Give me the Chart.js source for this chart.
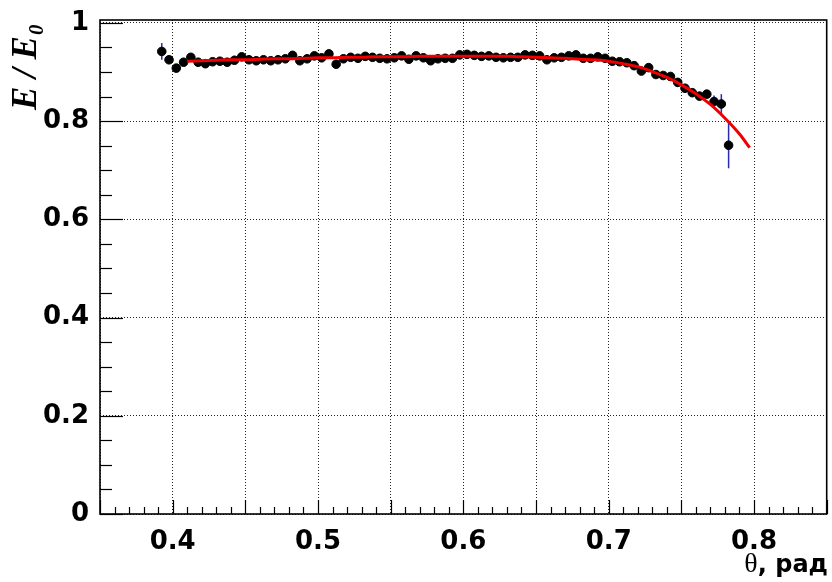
<!DOCTYPE html>
<html>
<head>
<meta charset="utf-8">
<script src="https://cdn.jsdelivr.net/npm/chart.js@4/dist/chart.umd.min.js"></script>
<style>
  html, body { margin: 0; padding: 0; background: #fff; }
  #wrap { width: 832px; height: 582px; }
</style>
</head>
<body>
<div id="wrap"><canvas id="c" width="832" height="582"></canvas></div>
<script>
// Polar angle bins (rad)
const angles = [
  0.3925,0.3975,0.4025,0.4075,0.4125,0.4175,0.4225,0.4275,0.4325,0.4375,
  0.4425,0.4475,0.4525,0.4575,0.4625,0.4675,0.4725,0.4775,0.4825,0.4875,
  0.4925,0.4975,0.5025,0.5075,0.5125,0.5175,0.5225,0.5275,0.5325,0.5375,
  0.5425,0.5475,0.5525,0.5575,0.5625,0.5675,0.5725,0.5775,0.5825,0.5875,
  0.5925,0.5975,0.6025,0.6075,0.6125,0.6175,0.6225,0.6275,0.6325,0.6375,
  0.6425,0.6475,0.6525,0.6575,0.6625,0.6675,0.6725,0.6775,0.6825,0.6875,
  0.6925,0.6975,0.7025,0.7075,0.7125,0.7175,0.7225,0.7275,0.7325,0.7375,
  0.7425,0.7475,0.7525,0.7575,0.7625,0.7675,0.7725,0.7775,0.7825
];
// Measured energy ratio E/E0 per bin
const ratio = [
  0.942,0.925,0.908,0.920,0.930,0.920,0.917,0.921,0.922,0.920,
  0.924,0.931,0.925,0.923,0.925,0.923,0.925,0.927,0.934,0.923,
  0.927,0.933,0.929,0.937,0.916,0.927,0.930,0.928,0.932,0.930,
  0.928,0.927,0.929,0.933,0.926,0.933,0.929,0.923,0.927,0.928,
  0.928,0.935,0.936,0.934,0.932,0.933,0.930,0.929,0.930,0.930,
  0.935,0.934,0.933,0.925,0.929,0.930,0.933,0.935,0.928,0.928,
  0.931,0.928,0.922,0.921,0.919,0.913,0.902,0.909,0.895,0.893,
  0.891,0.879,0.867,0.858,0.851,0.855,0.840,0.835,0.751
];
// Statistical uncertainty per bin
const ratioErr = [
  0.017,0.006,0.006,0.004,0.004,0.004,0.004,0.004,0.004,0.004,
  0.004,0.004,0.004,0.004,0.004,0.004,0.004,0.004,0.004,0.004,
  0.004,0.004,0.004,0.004,0.004,0.004,0.004,0.004,0.004,0.004,
  0.004,0.004,0.004,0.004,0.004,0.004,0.004,0.004,0.004,0.004,
  0.004,0.004,0.004,0.004,0.004,0.004,0.004,0.004,0.004,0.004,
  0.004,0.004,0.004,0.004,0.004,0.004,0.004,0.004,0.004,0.004,
  0.004,0.004,0.004,0.004,0.004,0.005,0.006,0.006,0.006,0.006,
  0.006,0.006,0.006,0.007,0.008,0.008,0.012,0.020,0.047
];
// Fitted curve
const fitAngles = [
  0.41,0.42,0.43,0.44,0.45,0.46,0.47,0.48,0.49,0.50,
  0.51,0.52,0.53,0.54,0.55,0.56,0.57,0.58,0.59,0.60,
  0.61,0.62,0.63,0.64,0.65,0.66,0.67,0.68,0.69,0.70,
  0.71,0.72,0.73,0.74,0.75,0.76,0.77,0.78,0.79,0.797
];
const fitRatio = [
  0.922,0.923,0.924,0.925,0.925,0.926,0.927,0.927,0.928,0.929,
  0.929,0.930,0.930,0.931,0.931,0.931,0.932,0.932,0.932,0.932,
  0.932,0.932,0.932,0.931,0.930,0.929,0.928,0.926,0.925,0.922,
  0.917,0.911,0.901,0.889,0.874,0.856,0.834,0.806,0.774,0.746
];
// Axis tick labels
const xTickLabels = ['0.4','0.5','0.6','0.7','0.8'];
const yTickLabels = ['0','0.2','0.4','0.6','0.8','1'];

const points = angles.map((x, i) => ({ x: x, y: ratio[i] }));
const fitLine = fitAngles.map((x, i) => ({ x: x, y: fitRatio[i] }));

const LABEL_FONT = { family: 'DejaVu Sans', weight: 'bold', size: 26 };

// vertical error bars drawn beneath the markers
const errorBars = {
  id: 'errorBars',
  beforeDatasetsDraw(chart) {
    const { ctx, scales: { x, y } } = chart;
    ctx.save();
    ctx.strokeStyle = '#2b2bb0';
    ctx.lineWidth = 1.5;
    angles.forEach((a, i) => {
      const px = x.getPixelForValue(a);
      ctx.beginPath();
      ctx.moveTo(px, y.getPixelForValue(ratio[i] - ratioErr[i]));
      ctx.lineTo(px, y.getPixelForValue(ratio[i] + ratioErr[i]));
      ctx.stroke();
    });
    ctx.restore();
  }
};

// frame, inward tick marks and axis titles
const frameAndTitles = {
  id: 'frameAndTitles',
  afterDraw(chart) {
    const { ctx, chartArea: a, scales: { x, y } } = chart;
    ctx.save();
    ctx.strokeStyle = '#000';
    ctx.lineWidth = 1.2;
    // x ticks every 0.01, longer every 0.05
    for (let k = 35; k <= 85; k++) {
      const px = Math.round(x.getPixelForValue(k / 100)) + 0.5;
      const len = (k % 5 === 0) ? 14 : 7;
      ctx.beginPath();
      ctx.moveTo(px, a.bottom);
      ctx.lineTo(px, a.bottom - len);
      ctx.stroke();
    }
    // y ticks every 0.05, longer every 0.2
    for (let k = 0; k <= 20; k++) {
      const py = Math.round(y.getPixelForValue(k / 20)) + 0.5;
      const len = (k % 4 === 0) ? 23 : 12;
      ctx.beginPath();
      ctx.moveTo(a.left, py);
      ctx.lineTo(a.left + len, py);
      ctx.stroke();
    }
    // frame
    ctx.lineWidth = 1.6;
    ctx.strokeRect(a.left, a.top, a.right - a.left, a.bottom - a.top);

    // x title
    ctx.fillStyle = '#000';
    ctx.textBaseline = 'alphabetic';
    ctx.textAlign = 'left';
    ctx.font = 'bold 24px "DejaVu Sans"';
    const tail = ', рад';
    const tailW = ctx.measureText(tail).width;
    ctx.font = '28px "Liberation Serif"';
    const thW = ctx.measureText('θ').width;
    const xEnd = 828;
    ctx.fillText('θ', xEnd - tailW - thW, 572);
    ctx.font = 'bold 24px "DejaVu Sans"';
    ctx.fillText(tail, xEnd - tailW, 572);

    // y title, rotated
    ctx.translate(36, 110);
    ctx.rotate(-Math.PI / 2);
    ctx.font = 'italic bold 35px "Liberation Serif"';
    const main = 'E / E';
    ctx.fillText(main, 0, 0);
    const mw = ctx.measureText(main).width;
    ctx.font = 'italic bold 21px "Liberation Serif"';
    ctx.fillText('0', mw + 1, 7);
    ctx.restore();
  }
};

function noEdgePadding(s) {
  s.paddingLeft = 0; s.paddingRight = 0;
  s.paddingTop = 0; s.paddingBottom = 0;
}

new Chart(document.getElementById('c'), {
  type: 'scatter',
  data: {
    datasets: [
      {
        label: 'fit',
        type: 'line',
        data: fitLine,
        borderColor: 'rgb(238,0,0)',
        borderWidth: 3,
        pointRadius: 0,
        tension: 0.3,
        fill: false,
        order: 0
      },
      {
        label: 'E/E0',
        data: points,
        backgroundColor: '#000',
        borderColor: '#000',
        pointRadius: 4.3,
        pointStyle: 'circle',
        order: 1
      }
    ]
  },
  options: {
    responsive: false,
    animation: false,
    devicePixelRatio: 1,
    layout: { padding: { top: 20, right: 2, left: 0, bottom: 0 } },
    plugins: { legend: { display: false }, tooltip: { enabled: false } },
    scales: {
      x: {
        type: 'linear',
        min: 0.35,
        max: 0.85,
        afterFit(s) { s.height = 68; noEdgePadding(s); },
        border: { display: false, dash: [1, 2] },
        grid: { color: '#222', lineWidth: 1, drawTicks: false },
        ticks: {
          stepSize: 0.05,
          includeBounds: false,
          autoSkip: false,
          maxRotation: 0,
          padding: 13,
          color: '#000',
          font: LABEL_FONT,
          callback(v) {
            const s = (Math.round(v * 100) / 100).toFixed(1);
            return (Math.abs(v * 10 - Math.round(v * 10)) < 1e-6 && xTickLabels.includes(s)) ? s : '';
          }
        }
      },
      y: {
        type: 'linear',
        min: 0,
        max: 1.006,
        afterFit(s) { s.width = 100; noEdgePadding(s); },
        border: { display: false, dash: [1, 2] },
        grid: { color: '#222', lineWidth: 1, drawTicks: false },
        ticks: {
          stepSize: 0.2,
          includeBounds: false,
          autoSkip: false,
          padding: 11,
          color: '#000',
          font: LABEL_FONT,
          callback(v) {
            const s = String(Math.round(v * 10) / 10);
            return yTickLabels.includes(s) ? s : '';
          }
        }
      }
    }
  },
  plugins: [errorBars, frameAndTitles]
});
</script>
</body>
</html>
